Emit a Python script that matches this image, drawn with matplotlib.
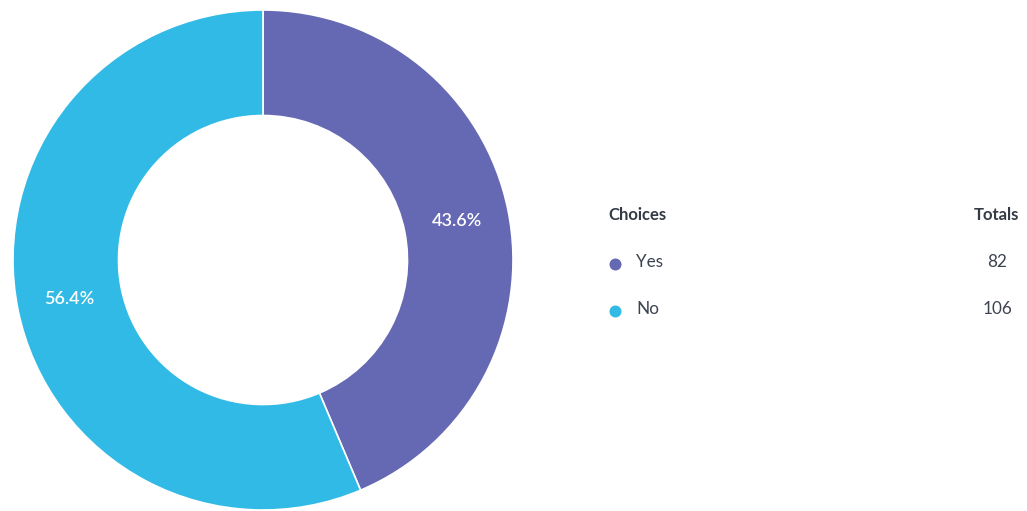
import matplotlib.pyplot as plt

# survey data
choices = ['Yes', 'No']
totals = [82, 106]
colors = ['#6568b2', '#31bae5']

plt.rcParams['font.family'] = ['Lato', 'DejaVu Sans']

fig = plt.figure(figsize=(10.27, 5.11), dpi=100)

# donut, centre at about (263, 260) px, outer radius ~250 px
W, H = 1027, 511
cx, cy, r = 263, 260, 250
ax = fig.add_axes([(cx - r) / W, (H - cy - r) / H, 2 * r / W, 2 * r / H])
wedges, texts, autotexts = ax.pie(
    totals, colors=colors, startangle=90, counterclock=False,
    radius=1, autopct='%.1f%%', pctdistance=0.79,
    wedgeprops=dict(width=0.422, edgecolor='white', linewidth=1.2),
    textprops=dict(color='white', fontsize=13, fontweight='semibold'))
ax.set_xlim(-1, 1)
ax.set_ylim(-1, 1)
ax.set_aspect('equal')

# legend table drawn in pixel coordinates
lg = fig.add_axes([0, 0, 1, 1])
lg.set_xlim(0, W)
lg.set_ylim(H, 0)
lg.axis('off')

head_col = '#343a46'
lg.text(608, 220, 'Choices', fontsize=12, fontweight='bold', color=head_col, va='baseline')
lg.text(1019, 220, 'Totals', fontsize=12, fontweight='bold', color=head_col, va='baseline', ha='right')

rows_y = [267, 314]
for i in range(len(choices)):
    y = rows_y[i]
    lg.scatter([615], [y - 3], s=58, color=colors[i], zorder=3)
    lg.text(636, y, choices[i], fontsize=12.3, color='#3d4350', va='baseline')
    lg.text(997, y, str(totals[i]), fontsize=12.3, color='#3d4350', va='baseline', ha='center')

fig.savefig('out.png', dpi=100)
